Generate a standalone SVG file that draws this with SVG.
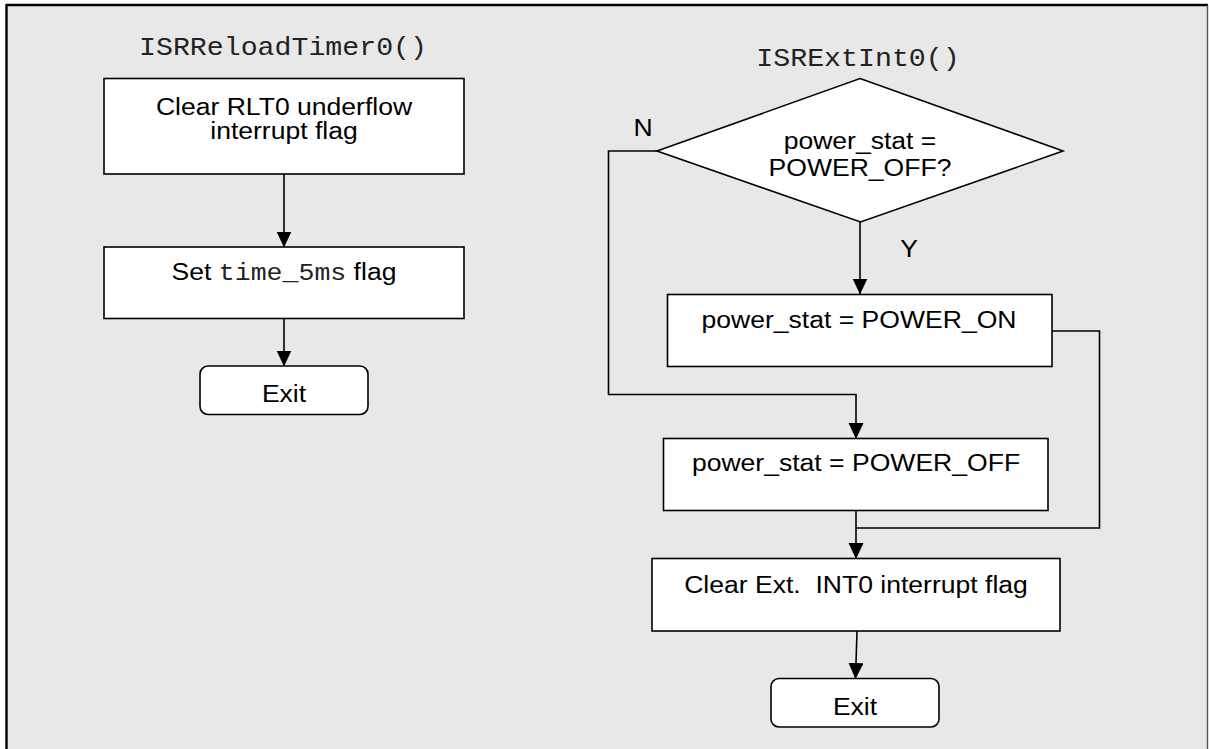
<svg xmlns="http://www.w3.org/2000/svg" width="1209" height="749" viewBox="0 0 1209 749">
  <style>
    .box { fill: #ffffff; stroke: #000000; stroke-width: 1.6; }
    .wire { fill: none; stroke: #000000; stroke-width: 1.6; }
    .sans { font-family: "Liberation Sans", Arial, sans-serif; font-size: 23.5px; fill: #000000; text-anchor: middle; }
    .mono { font-family: "Liberation Mono", "Courier New", monospace; fill: #222222; }
    .title { font-family: "Liberation Mono", "Courier New", monospace; font-size: 25px; fill: #222222; text-anchor: middle; }
  </style>
  <defs>
    <marker id="arrow" markerUnits="userSpaceOnUse" markerWidth="16" markerHeight="17" refX="15.5" refY="7.5" orient="auto">
      <path d="M0,0 L16,7.5 L0,15 Z" fill="#000000"/>
    </marker>
  </defs>

  <!-- page frame -->
  <rect x="0" y="0" width="1209" height="749" fill="#ffffff"/>
  <rect x="6" y="5" width="1202" height="760" fill="#e8e8e8"/>
  <line x1="6" y1="5" x2="1208" y2="5" stroke="#000000" stroke-width="2.4"/>
  <line x1="6.5" y1="4" x2="6.5" y2="749" stroke="#000000" stroke-width="2.4"/>
  <line x1="1207.5" y1="5" x2="1207.5" y2="749" stroke="#555555" stroke-width="1.4"/>

  <!-- routine titles -->
  <g id="title-reload">
    <text class="title" transform="matrix(1.13 0 0 1 283 0)" x="0" y="55">ISRReloadTimer0()</text>
  </g>
  <g id="title-extint">
    <text class="title" transform="matrix(1.13 0 0 1 858 0)" x="0" y="66.5">ISRExtInt0()</text>
  </g>

  <!-- connectors -->
  <g id="connectors">
    <line class="wire" x1="284" y1="174" x2="284" y2="247" marker-end="url(#arrow)"/>
    <line class="wire" x1="284" y1="318" x2="284" y2="366" marker-end="url(#arrow)"/>
    <line class="wire" x1="860" y1="222" x2="860" y2="294" marker-end="url(#arrow)"/>
    <polyline class="wire" points="657,151 608.5,151 608.5,394.5 856,394.5 856,438.5" marker-end="url(#arrow)"/>
    <polyline class="wire" points="1052,331 1099.5,331 1099.5,528 856,528"/>
    <line class="wire" x1="856" y1="511" x2="856" y2="558.5" marker-end="url(#arrow)"/>
    <line class="wire" x1="857" y1="631" x2="855.5" y2="678.5" marker-end="url(#arrow)"/>
    <text class="sans" transform="matrix(1.13 0 0 1 643 0)" x="0" y="136.5">N</text>
    <text class="sans" transform="matrix(1.13 0 0 1 909 0)" x="0" y="257">Y</text>
  </g>

  <!-- ISRReloadTimer0 flow -->
  <g id="clear-rlt0">
    <rect class="box" x="104" y="78.5" width="360" height="95.5"/>
    <text class="sans" transform="matrix(1.13 0 0 1 284 0)" x="0" y="115">Clear RLT0 underflow</text>
    <text class="sans" transform="matrix(1.13 0 0 1 284 0)" x="0" y="139.5">interrupt flag</text>
  </g>
  <g id="set-time5ms">
    <rect class="box" x="104" y="247" width="360" height="71.5"/>
    <text class="sans" transform="matrix(1.13 0 0 1 284 0)" x="0" y="280.5" xml:space="preserve">Set <tspan class="mono">time_5ms</tspan> flag</text>
  </g>
  <g id="exit-reload">
    <rect class="box" x="200" y="366" width="168" height="48.5" rx="8" ry="8"/>
    <text class="sans" transform="matrix(1.13 0 0 1 284 0)" x="0" y="402.5">Exit</text>
  </g>

  <!-- ISRExtInt0 flow -->
  <g id="check-power">
    <polygon class="box" points="860,78.5 1063,151 860.5,222 657,151"/>
    <text class="sans" transform="matrix(1.13 0 0 1 860 0)" x="0" y="149.5">power_stat =</text>
    <text class="sans" transform="matrix(1.13 0 0 1 860 0)" x="0" y="176">POWER_OFF?</text>
  </g>
  <g id="power-on">
    <rect class="box" x="667.5" y="294.5" width="384.5" height="72"/>
    <text class="sans" transform="matrix(1.13 0 0 1 859 0)" x="0" y="328.5">power_stat = POWER_ON</text>
  </g>
  <g id="power-off">
    <rect class="box" x="663.5" y="438.5" width="384.5" height="72"/>
    <text class="sans" transform="matrix(1.13 0 0 1 856 0)" x="0" y="471">power_stat = POWER_OFF</text>
  </g>
  <g id="clear-int0">
    <rect class="box" x="652" y="558.5" width="408" height="72.5"/>
    <text class="sans" transform="matrix(1.13 0 0 1 856 0)" x="0" y="593.5" xml:space="preserve">Clear Ext.  INT0 interrupt flag</text>
  </g>
  <g id="exit-extint">
    <rect class="box" x="771" y="678.5" width="168" height="48.5" rx="8" ry="8"/>
    <text class="sans" transform="matrix(1.13 0 0 1 855 0)" x="0" y="715">Exit</text>
  </g>
</svg>
